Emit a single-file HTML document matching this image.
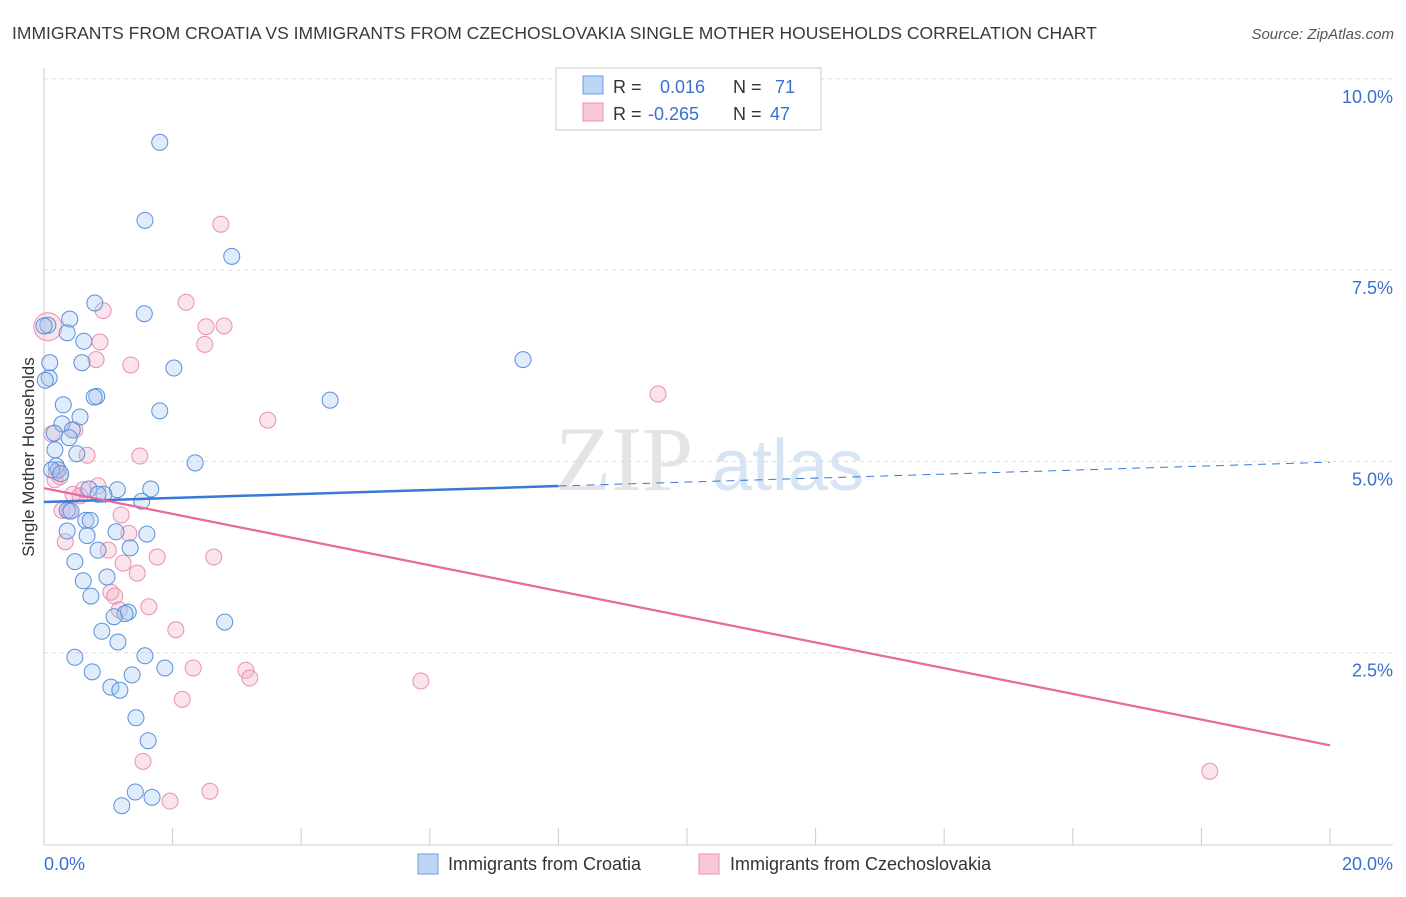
<!DOCTYPE html>
<html><head><meta charset="utf-8"><style>
body{margin:0;background:#fff;font-family:"Liberation Sans",sans-serif;}
</style></head><body>
<svg id="c" width="1406" height="892" viewBox="0 0 1406 892" xmlns="http://www.w3.org/2000/svg">
<text x="12" y="39" font-size="17.5" fill="#3a3a3a">IMMIGRANTS FROM CROATIA VS IMMIGRANTS FROM CZECHOSLOVAKIA SINGLE MOTHER HOUSEHOLDS CORRELATION CHART</text>
<text x="1394" y="39" font-size="15" fill="#555" font-style="italic" text-anchor="end">Source: ZipAtlas.com</text>
<g><text x="555" y="490" font-size="92" fill="#e4e4e4" font-family="Liberation Serif,serif">ZIP</text><text x="712" y="490" font-size="72" fill="#d6e4f4">atlas</text></g>
<g id="grid"></g>
<g id="axes"></g>
<g id="pts"></g>
<g id="lines"></g>
<text transform="translate(34,457) rotate(-90)" font-size="17" fill="#333" text-anchor="middle">Single Mother Households</text>
<g>
<rect x="556" y="68" width="265" height="62" fill="#fff" stroke="#ccc"/>
<rect x="583" y="76" width="20" height="18" fill="#bcd5f5" stroke="#6a9ee0"/>
<rect x="583" y="103" width="20" height="18" fill="#f8c8d8" stroke="#e890b0"/>
<text x="613" y="93" font-size="18" fill="#333">R = <tspan x="660" fill="#3a6fd0">0.016</tspan><tspan x="733">N = </tspan><tspan x="775" fill="#3a6fd0">71</tspan></text>
<text x="613" y="120" font-size="18" fill="#333">R = <tspan x="648" fill="#3a6fd0">-0.265</tspan><tspan x="733">N = </tspan><tspan x="770" fill="#3a6fd0">47</tspan></text>
</g>
<g>
<rect x="418" y="854" width="20" height="20" fill="#bcd5f5" stroke="#6a9ee0"/>
<text x="448" y="870" font-size="18" fill="#333">Immigrants from Croatia</text>
<rect x="699" y="854" width="20" height="20" fill="#f8c8d8" stroke="#e890b0"/>
<text x="730" y="870" font-size="18" fill="#333">Immigrants from Czechoslovakia</text>
</g>
</svg>
<script>
const yTicks=[2.5,5.0,7.5,10.0];
const yTickLabels=["2.5%","5.0%","7.5%","10.0%"];
const xTickCount=10;
const xLabels=["0.0%","20.0%"];
const blueX=[1.80,1.57,2.92,0.79,1.56,0.40,0.06,0.36,0.62,0.09,0.59,2.02,0.08,7.45,0.82,0.78,0.30,4.45,1.80,0.56,0.28,0.44,0.39,0.16,0.17,0.51,2.35,0.19,0.22,0.12,0.26,0.70,1.14,1.66,0.93,0.84,1.52,0.36,0.42,0.65,0.72,0.36,1.12,1.60,0.67,0.84,1.34,0.48,0.98,0.61,0.73,1.31,1.26,1.09,0.90,2.81,1.15,0.48,1.57,1.88,0.75,1.37,1.04,1.18,1.43,1.62,1.42,1.68,1.21,0.00,0.02];
const blueY=[9.17,8.15,7.68,7.07,6.93,6.86,6.78,6.68,6.57,6.29,6.29,6.22,6.09,6.33,5.85,5.84,5.74,5.80,5.66,5.58,5.49,5.41,5.31,5.37,5.15,5.10,4.98,4.94,4.89,4.89,4.84,4.64,4.63,4.64,4.57,4.57,4.48,4.36,4.35,4.23,4.23,4.09,4.08,4.05,4.03,3.84,3.87,3.69,3.49,3.44,3.24,3.03,3.01,2.97,2.78,2.90,2.64,2.44,2.46,2.30,2.25,2.21,2.05,2.01,1.65,1.35,0.68,0.61,0.50,6.77,6.06];
const pinkX=[2.75,2.21,0.92,2.52,2.80,0.87,2.50,0.81,1.35,3.48,9.55,0.48,0.12,0.67,1.49,0.25,0.19,0.84,0.61,0.45,0.56,0.28,0.39,1.20,1.32,0.33,1.00,1.76,2.64,1.23,1.45,1.04,1.10,1.63,1.17,2.05,2.32,3.14,3.20,5.86,2.15,1.54,1.96,2.58,18.13,0.06,0.17];
const pinkY=[8.10,7.08,6.97,6.76,6.77,6.56,6.53,6.33,6.26,5.54,5.88,5.41,5.36,5.08,5.07,4.80,4.86,4.68,4.63,4.57,4.55,4.36,4.35,4.30,4.06,3.95,3.84,3.75,3.75,3.67,3.54,3.29,3.24,3.10,3.06,2.80,2.30,2.27,2.17,2.13,1.89,1.08,0.56,0.69,0.95,6.76,4.76];
const blueTrend=[4.47,4.99];
const pinkTrend=[4.65,1.29];
const NS="http://www.w3.org/2000/svg";
const sx=v=>44+v*64.3, sy=v=>844-v*76.52;
function mk(t,a,p){const e=document.createElementNS(NS,t);for(const k in a)e.setAttribute(k,a[k]);p.appendChild(e);return e;}
const grid=document.getElementById('grid'),axes=document.getElementById('axes');
yTicks.forEach((t,i)=>{
 const l=mk('line',{x1:44,x2:1393,y1:sy(t),y2:sy(t),stroke:'#ddd','stroke-dasharray':'4,4'},grid);
 
 
 const tx=mk('text',{x:1393,y:sy(t)+24,'font-size':18,fill:'#3a6fd0','text-anchor':'end'},axes);
 tx.textContent=yTickLabels[i];
 
 
});
mk('line',{x1:44,x2:44,y1:68,y2:845,stroke:'#ccc'},axes);
mk('line',{x1:44,x2:1393,y1:845,y2:845,stroke:'#ccc'},axes);
for(let i=0;i<=xTickCount;i++){
 const t=mk('line',{x1:sx(i*2),x2:sx(i*2),y1:828,y2:845,stroke:'#ccc'},axes);
 
 
}
const xl0=mk('text',{x:44,y:870,'font-size':18,fill:'#3a6fd0'},axes);xl0.textContent=xLabels[0];


const xl1=mk('text',{x:1393,y:870,'font-size':18,fill:'#3a6fd0','text-anchor':'end'},axes);xl1.textContent=xLabels[1];


const pts=document.getElementById('pts');
pinkX.forEach((x,i)=>{
 const c=mk('circle',{cx:sx(x),cy:sy(pinkY[i]),r:i==45?14:8,fill:'rgba(244,176,200,0.35)',stroke:'#e890b0','stroke-width':1},pts);
 
 
});
blueX.forEach((x,i)=>{
 const c=mk('circle',{cx:sx(x),cy:sy(blueY[i]),r:8,fill:'rgba(168,200,240,0.35)',stroke:'#5a8fdc','stroke-width':1},pts);
 
 
});
const lines=document.getElementById('lines');
const bAt=x=>blueTrend[0]+(blueTrend[1]-blueTrend[0])*x/20;
const b1=mk('line',{x1:sx(0),y1:sy(bAt(0)),x2:sx(8),y2:sy(bAt(8)),stroke:'#3a78d8','stroke-width':2.5},lines);


const b2=mk('line',{x1:sx(8),y1:sy(bAt(8)),x2:sx(20),y2:sy(bAt(20)),stroke:'#3a78d8','stroke-width':1,'stroke-dasharray':'8,6'},lines);


const p1=mk('line',{x1:sx(0),y1:sy(pinkTrend[0]),x2:sx(20),y2:sy(pinkTrend[1]),stroke:'#e8689a','stroke-width':2.2},lines);


</script>
</body></html>
